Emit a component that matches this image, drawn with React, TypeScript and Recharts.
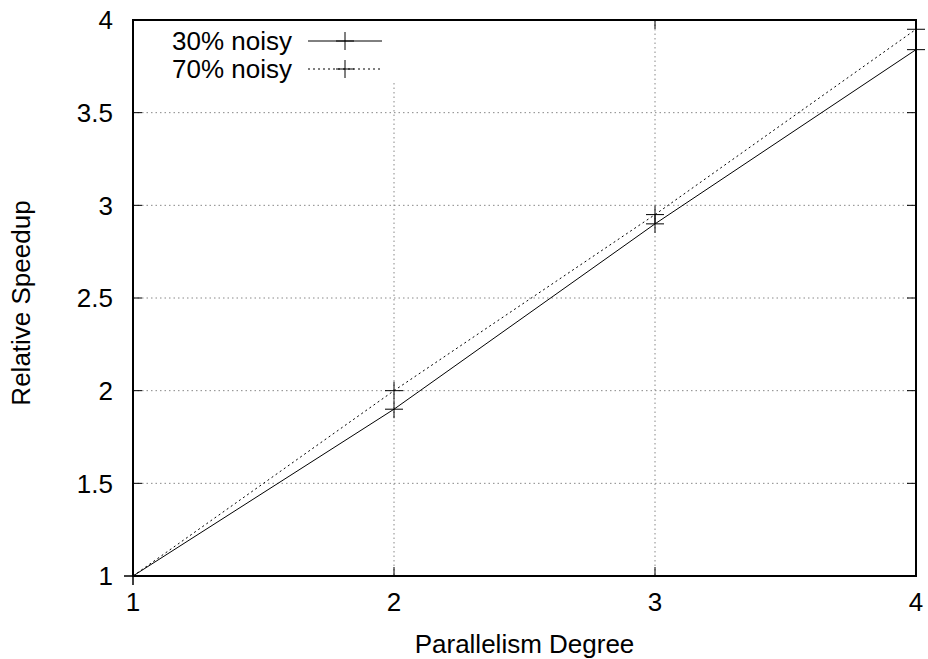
import React from 'react';
import {
  LineChart,
  Line,
  CartesianGrid,
  XAxis,
  YAxis,
  Legend,
  ReferenceArea,
} from 'recharts';

const degrees = [1, 2, 3, 4];
const noisy30 = [1, 1.9, 2.9, 3.84];
const noisy70 = [1, 2.0, 2.95, 3.95];
const xTicks = [1, 2, 3, 4];
const yTicks = [1, 1.5, 2, 2.5, 3, 3.5, 4];

const data = degrees.map((d, i) => ({
  degree: d,
  noisy30: noisy30[i],
  noisy70: noisy70[i],
}));

const FONT = '"Liberation Sans", Arial, Helvetica, sans-serif';
const FS = 26;
const TICK = 9;

// gnuplot style "+" point
const PlusDot = (props: any) => {
  const { cx, cy } = props;
  if (cx == null || cy == null) return null;
  return (
    <g stroke="#000" strokeWidth={1}>
      <line x1={cx - 9} y1={cy} x2={cx + 9} y2={cy} />
      <line x1={cx} y1={cy - 9} x2={cx} y2={cy + 9} />
    </g>
  );
};

// ticks point inwards, labels sit outside
const BottomTick = (props: any) => {
  const { x, y, payload } = props;
  return (
    <g>
      <line x1={x} y1={y} x2={x} y2={y - TICK} stroke="#000" strokeWidth={1} />
      <text x={x} y={y + 35} textAnchor="middle" fontFamily={FONT} fontSize={FS} fill="#000">
        {payload.value}
      </text>
    </g>
  );
};

const TopTick = (props: any) => {
  const { x, y } = props;
  return <line x1={x} y1={y} x2={x} y2={y + TICK} stroke="#000" strokeWidth={1} />;
};

const LeftTick = (props: any) => {
  const { x, y, payload } = props;
  return (
    <g>
      <line x1={x} y1={y} x2={x + TICK} y2={y} stroke="#000" strokeWidth={1} />
      <text x={x - 20} y={y} dy="0.36em" textAnchor="end" fontFamily={FONT} fontSize={FS} fill="#000">
        {payload.value}
      </text>
    </g>
  );
};

const RightTick = (props: any) => {
  const { x, y } = props;
  return <line x1={x} y1={y} x2={x - TICK} y2={y} stroke="#000" strokeWidth={1} />;
};

const legendItems = [
  { label: '30% noisy', dash: undefined },
  { label: '70% noisy', dash: '2 3' },
];

const LegendBox = () => (
  <svg width={262} height={62} style={{ display: 'block' }}>
    <rect x={0} y={0} width={262} height={62} fill="#fff" />
    {legendItems.map((item, i) => {
      const base = 29 + i * 28;
      const ly = base - 9;
      return (
        <g key={item.label}>
          <text x={158} y={base} textAnchor="end" fontFamily={FONT} fontSize={FS} fill="#000">
            {item.label}
          </text>
          <line x1={174} y1={ly} x2={248} y2={ly} stroke="#000" strokeWidth={1} strokeDasharray={item.dash} />
          <line x1={202} y1={ly} x2={220} y2={ly} stroke="#000" strokeWidth={1} />
          <line x1={211} y1={ly - 9} x2={211} y2={ly + 9} stroke="#000" strokeWidth={1} />
        </g>
      );
    })}
  </svg>
);

const YLabel = (props: any) => {
  const { viewBox } = props;
  const cx = 30;
  const cy = viewBox.y + viewBox.height / 2 + 5;
  return (
    <text
      x={cx}
      y={cy}
      transform={`rotate(-90 ${cx} ${cy})`}
      textAnchor="middle"
      fontFamily={FONT}
      fontSize={FS}
      fill="#000"
    >
      Relative Speedup
    </text>
  );
};

export default function App() {
  return (
    <div style={{ position: 'absolute', left: 0, top: 0, background: '#fff' }}>
      <LineChart
        width={928}
        height={659}
        data={data}
        margin={{ top: 19, right: 11, bottom: 0, left: 0 }}
      >
        <CartesianGrid stroke="#888" strokeDasharray="1.5 3" />
        <XAxis
          dataKey="degree"
          type="number"
          domain={[1, 4]}
          ticks={xTicks}
          height={83}
          tickSize={0}
          tickMargin={0}
          tickLine={false}
          tick={<BottomTick />}
          axisLine={false}
          label={{
            value: 'Parallelism Degree',
            position: 'insideBottom',
            offset: 6,
            fontFamily: FONT,
            fontSize: FS,
            fill: '#000',
          }}
        />
        <XAxis
          xAxisId="top"
          dataKey="degree"
          orientation="top"
          type="number"
          domain={[1, 4]}
          ticks={xTicks}
          height={1}
          tickSize={0}
          tickMargin={0}
          tickLine={false}
          tick={<TopTick />}
          axisLine={false}
        />
        <YAxis
          type="number"
          domain={[1, 4]}
          ticks={yTicks}
          width={133}
          tickSize={0}
          tickMargin={0}
          tickLine={false}
          tick={<LeftTick />}
          axisLine={false}
          label={<YLabel />}
        />
        <YAxis
          yAxisId="right"
          orientation="right"
          type="number"
          domain={[1, 4]}
          ticks={yTicks}
          width={1}
          tickSize={0}
          tickMargin={0}
          tickLine={false}
          tick={<RightTick />}
          axisLine={false}
        />
        <ReferenceArea
          x1={1}
          x2={4}
          y1={1}
          y2={4}
          fill="none"
          fillOpacity={0}
          stroke="#000"
          strokeWidth={2}
          ifOverflow="visible"
        />
        <Legend
          layout="horizontal"
          verticalAlign="middle"
          align="center"
          content={<LegendBox />}
          wrapperStyle={{ left: 134, top: 21, width: 262, height: 62 }}
        />
        <Line
          dataKey="noisy30"
          type="linear"
          stroke="#000"
          strokeWidth={1}
          dot={<PlusDot />}
          activeDot={false}
          isAnimationActive={false}
        />
        <Line
          dataKey="noisy70"
          xAxisId="top"
          yAxisId="right"
          type="linear"
          stroke="#000"
          strokeWidth={1}
          strokeDasharray="2 3"
          dot={<PlusDot />}
          activeDot={false}
          isAnimationActive={false}
        />
      </LineChart>
    </div>
  );
}
